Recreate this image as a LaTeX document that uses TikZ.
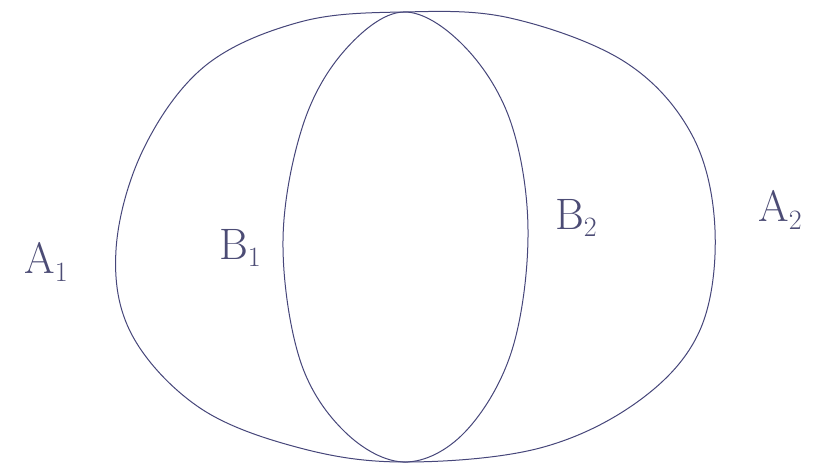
\documentclass[tikz,border=0pt]{standalone}
\usepackage{fontspec}
\setmainfont{Latin Modern Roman}
\newcommand{\lbl}[2]{#1\raisebox{-0.4ex}{\fontsize{28}{28}\selectfont #2}}
\begin{document}
\begin{tikzpicture}[x=1pt,y=-1pt,
  pen/.style={draw=black!55!blue!45!gray, line width=1pt},
  lab/.style={font=\fontsize{44}{46}\selectfont, text=black!60!blue!40!gray}]
\useasboundingbox[fill=white] (0,0) rectangle (818,466);
% outer egg
\draw[pen] plot[smooth cycle, tension=0.6] coordinates {(403,12) (300,22) (205,66) (143,150) (116,250) (132,335) (200,408) (300,448) (405,462) (540,448) (640,400) (700,330) (715,230) (692,135) (625,62) (510,18)};
% inner ellipse
\draw[pen] plot[smooth cycle, tension=0.6] coordinates {(403,12) (345,50) (303,125) (283,240) (300,360) (345,432) (405,462) (465,432) (512,350) (528,230) (510,120) (463,45)};
\node[lab] (a1) at (46,262) {\lbl{A}{1}};
\node[lab] (b1) at (240,248) {\lbl{B}{1}};
\node[lab] (b2) at (576,218) {\lbl{B}{2}};
\node[lab] (a2) at (780,210) {\lbl{A}{2}};
\end{tikzpicture}
\end{document}
